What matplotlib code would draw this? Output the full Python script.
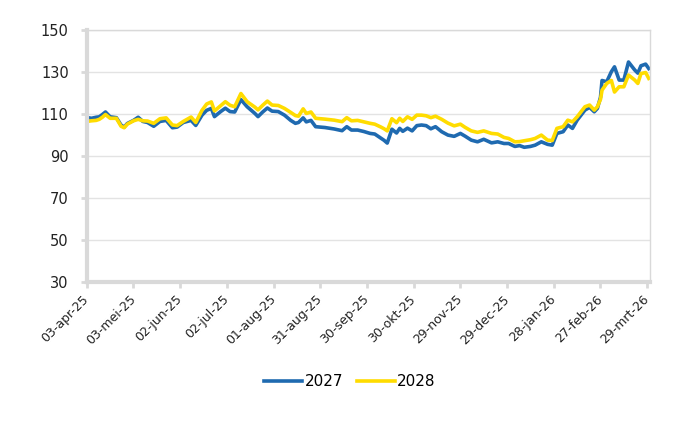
import numpy as np
import pandas as pd
import matplotlib
matplotlib.use("Agg")
import matplotlib.pyplot as plt
import matplotlib.dates as mdates

plt.rcParams['font.family'] = ['DejaVu Sans']

# days since 03-apr-25
days = [0, 3, 6, 8, 10, 12, 15, 19, 22, 24, 26, 30, 33, 36, 39, 43, 47, 51, 55, 58,
        62, 67, 70, 74, 77, 80, 82, 86, 89, 92, 95, 99, 103, 108, 110, 113, 116, 119,
        123, 127, 131, 134, 136, 139, 141, 144, 147, 153, 159, 164, 167, 170, 174,
        178, 182, 185, 189, 191, 193, 196, 199, 201, 203, 206, 209, 212, 215, 218,
        221, 224, 228, 232, 236, 240, 243, 247, 251, 255, 260, 264, 268, 271, 275,
        278, 281, 285, 288, 292, 296, 299, 302, 306, 309, 312, 315, 320, 323, 326,
        328, 330, 331, 334, 337, 339, 342, 345, 348, 352, 354, 356, 359, 361]

s2027 = [108.4, 108.0, 108.5, 108.7, 109.8, 111.0, 108.7, 108.3, 104.8, 103.8, 105.5,
         107.0, 108.5, 106.5, 106.0, 104.2, 106.5, 107.0, 103.5, 103.8, 106.0, 107.0,
         104.6, 109.5, 111.8, 112.7, 108.8, 111.2, 112.8, 111.2, 111.0, 116.9, 113.5,
         110.3, 108.8, 111.0, 112.9, 111.4, 111.2, 109.5, 107.0, 105.6, 106.0, 108.2,
         106.3, 107.0, 104.0, 103.6, 102.9, 102.1, 104.0, 102.4, 102.4, 101.7, 100.8,
         100.5, 98.5, 97.5, 96.2, 102.8, 101.0, 103.2, 101.8, 103.3, 102.0, 104.5,
         104.8, 104.5, 103.0, 104.0, 101.6, 100.0, 99.4, 100.8, 99.5, 97.6, 96.8,
         98.0, 96.3, 96.8, 96.0, 96.0, 94.6, 95.0, 94.2, 94.6, 95.2, 96.8, 95.6,
         95.2, 100.8, 101.6, 104.8, 103.2, 107.1, 111.9, 113.2, 111.1, 112.7, 118.0,
         126.0, 125.4, 130.2, 132.5, 126.2, 126.2, 134.8, 131.0, 129.5, 133.0, 133.8,
         131.7]

s2028 = [106.5, 106.8, 107.0, 107.5, 108.5, 109.8, 108.0, 108.0, 104.2, 103.5, 105.2,
         106.8, 107.5, 106.8, 106.7, 105.6, 107.8, 108.2, 104.8, 104.5, 106.5, 108.6,
         106.0, 111.8, 114.8, 115.8, 111.5, 114.0, 115.9, 114.2, 113.5, 119.8, 115.9,
         113.3, 112.0, 114.2, 116.2, 114.3, 114.1, 112.7, 110.8, 109.3, 109.0, 112.5,
         110.3, 111.0, 108.0, 107.6, 107.1, 106.4, 108.3, 106.8, 107.0, 106.3, 105.6,
         105.2, 103.8, 103.0, 102.0, 107.8, 105.9, 108.0, 106.5, 108.7, 107.5, 109.5,
         109.5, 109.2, 108.3, 109.0, 107.5, 105.7, 104.4, 105.2, 103.7, 102.0, 101.3,
         102.0, 100.8, 100.5, 98.9, 98.4, 96.8, 96.9, 97.3, 97.8, 98.4, 100.0, 97.6,
         97.4, 103.2, 104.0, 107.1, 106.3, 108.7, 113.5, 114.3, 111.9, 113.5, 117.0,
         121.4, 124.6, 126.0, 120.5, 123.0, 123.0, 128.6, 126.2, 124.6, 129.3, 129.8,
         127.0]

labels = ["2027", "2028"]
colors = ["#1F6AB0", "#FFDC00"]

start = pd.Timestamp("2025-04-03")
dates = start + pd.to_timedelta(days, unit="D")
tick_dates = pd.date_range(start, periods=13, freq="30D")
month_nl = {1: "jan", 2: "feb", 3: "mrt", 4: "apr", 5: "mei", 6: "jun", 7: "jul",
            8: "aug", 9: "sep", 10: "okt", 11: "nov", 12: "dec"}
tick_labels = [f"{d.day:02d}-{month_nl[d.month]}-{d.strftime('%y')}" for d in tick_dates]

fig = plt.figure(figsize=(7, 4.3), dpi=100)
ax = fig.add_axes([0.124, 0.344, 0.805, 0.586])

for lab, col, vals in zip(labels, colors, [s2027, s2028]):
    ax.plot(dates, vals, color=col, lw=2.6, label=lab, solid_joinstyle="round")

ax.set_ylim(30, 150)
ax.set_yticks(range(30, 151, 20))
ax.set_xlim(start, start + pd.Timedelta(days=362))
ax.set_xticks(tick_dates)
ax.set_xticklabels(tick_labels, rotation=45, ha="right", va="center",
                   rotation_mode="anchor")

ax.grid(axis="y", color="#E3E3E3", lw=1)
ax.set_axisbelow(True)
gray = "#D9D9D9"
for side in ["top", "right"]:
    ax.spines[side].set_color(gray)
    ax.spines[side].set_linewidth(1)
for side in ["left", "bottom"]:
    ax.spines[side].set_color(gray)
    ax.spines[side].set_linewidth(3)
ax.tick_params(axis="both", colors=gray, width=2, length=4, labelcolor="#222222")
ax.tick_params(axis="y", pad=9, labelsize=10.5)
ax.tick_params(axis="x", pad=7, labelsize=9)

fig.legend(loc="center", bbox_to_anchor=(0.5, 0.112), ncol=2, frameon=False,
           fontsize=11, handlelength=2.5, handletextpad=0.15, columnspacing=0.9)

fig.savefig("out.png", dpi=100)
